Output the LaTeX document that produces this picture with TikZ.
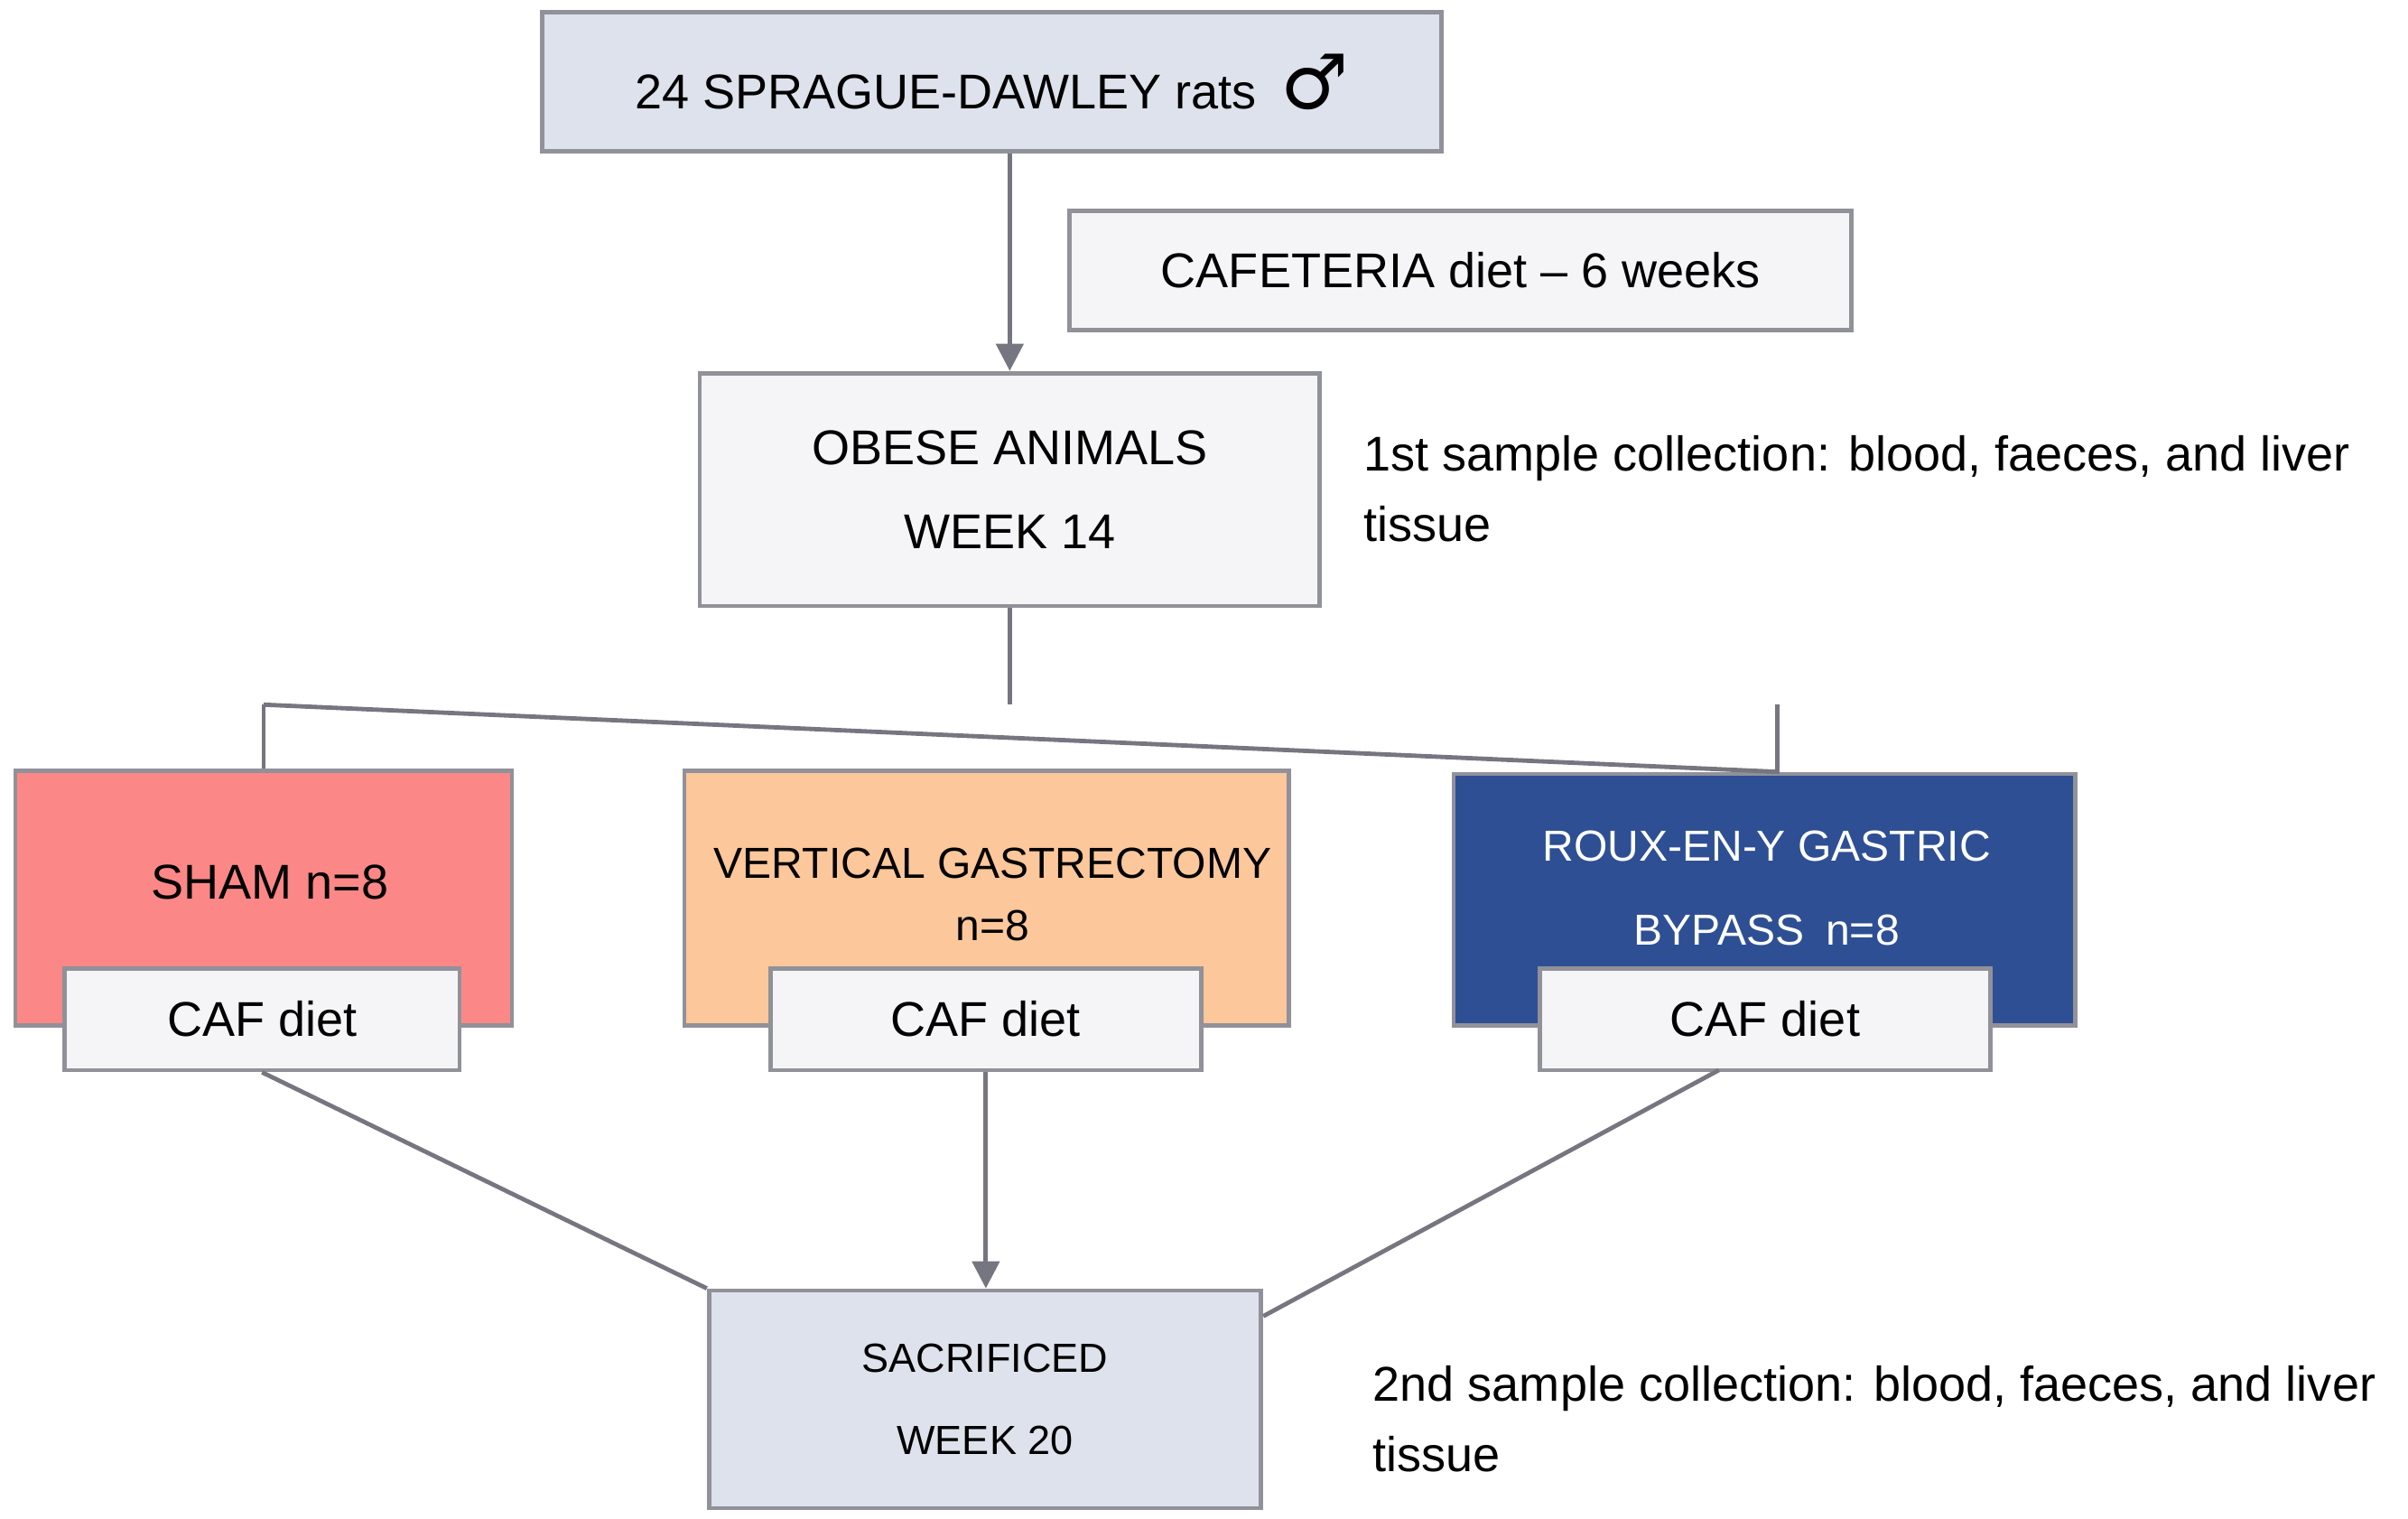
\documentclass[tikz,border=0pt]{standalone}
\usepackage{fontspec}
\setmainfont{Liberation Sans}
\newfontfamily\symfont{DejaVu Sans}
\usetikzlibrary{arrows.meta}
\definecolor{boxblue}{HTML}{DDE2EC}
\definecolor{boxwhite}{HTML}{F5F5F7}
\definecolor{shamred}{HTML}{FB8886}
\definecolor{vgorange}{HTML}{FCC79A}
\definecolor{rygbblue}{HTML}{2E4F93}
\definecolor{linegray}{HTML}{767680}
\tikzset{
  box/.style={draw=linegray!80, line width=0.8pt, inner sep=0pt, align=center, font=\fontsize{9}{14}\selectfont},
  link/.style={draw=linegray, line width=0.8pt},
  arr/.style={link, -{Triangle[length=5pt,width=5pt]}}
}
\begin{document}
\begin{tikzpicture}[x=0.01cm,y=-0.01cm]
  \useasboundingbox (0,0) rectangle (1562,985);

  % Top boxes
  \node[box, fill=boxblue, minimum width=5.83cm, minimum height=0.9cm] (rats) at (643.5,53)
    {24 SPRAGUE-DAWLEY rats\enspace{\symfont\fontsize{14}{14}\selectfont\bfseries ♂}};
  \node[box, fill=boxwhite, minimum width=5.07cm, minimum height=0.77cm] (caf) at (947.5,175.5)
    {CAFETERIA diet -- 6 weeks};
  \node[box, fill=boxwhite, minimum width=4.02cm, minimum height=1.51cm, font=\fontsize{9}{15.5}\selectfont] (obese) at (655,317.5)
    {OBESE ANIMALS\\WEEK 14};
  \node[anchor=north west, align=left, font=\fontsize{9}{13}\selectfont, inner sep=0pt] (first) at (884,282)
    {1st sample collection: blood, faeces, and liver\\tissue};

  % Groups
  \node[box, fill=shamred, minimum width=3.22cm, minimum height=1.65cm] (sham) at (171,582.5) {};
  \node[box, fill=vgorange, minimum width=3.92cm, minimum height=1.65cm] (vg) at (640,582.5) {};
  \node[box, fill=rygbblue, minimum width=4.03cm, minimum height=1.63cm] (rygb) at (1144.5,583.5) {};
  \node[font=\fontsize{9}{14}\selectfont] (shamtxt) at (175,572) {SHAM n=8};
  \node[align=center, font=\fontsize{8}{11.5}\selectfont] (vgtxt) at (644,580) {VERTICAL GASTRECTOMY\\n=8};
  \node[align=center, text=white, font=\fontsize{8}{15.5}\selectfont] (rygbtxt) at (1146,576) {ROUX-EN-Y GASTRIC\\BYPASS\enspace n=8};

  \node[box, fill=boxwhite, minimum width=2.56cm, minimum height=0.66cm] (cafa) at (170,661) {CAF diet};
  \node[box, fill=boxwhite, minimum width=2.79cm, minimum height=0.66cm] (cafb) at (639.5,661) {CAF diet};
  \node[box, fill=boxwhite, minimum width=2.92cm, minimum height=0.66cm] (cafc) at (1145,661) {CAF diet};

  % End
  \node[box, fill=boxblue, minimum width=3.58cm, minimum height=1.41cm, font=\fontsize{7.5}{15}\selectfont] (end) at (639,907.5)
    {SACRIFICED\\WEEK 20};
  \node[anchor=north west, align=left, font=\fontsize{9}{13}\selectfont, inner sep=0pt] (second) at (890,885)
    {2nd sample collection: blood, faeces, and liver\\tissue};

  % Connectors
  \coordinate (split) at (655,457);
  \draw[arr] (rats.south -| obese.north) -- (obese.north);
  \draw[link] (obese.south) -- (split);
  \draw[link] (sham.north |- split) -- (rygb.north -| 1153,0) ;
  \draw[link] (sham.north |- split) -- (sham.north);
  \draw[link] (1153,457) -- (1153,502);
  \draw[link] (cafa.south) -- (end.north west);
  \draw[arr] (cafb.south) -- (end.north -| cafb.south);
  \draw[link] (1115,694) -- ([yshift=-0.18cm]end.north east);
\end{tikzpicture}
\end{document}
